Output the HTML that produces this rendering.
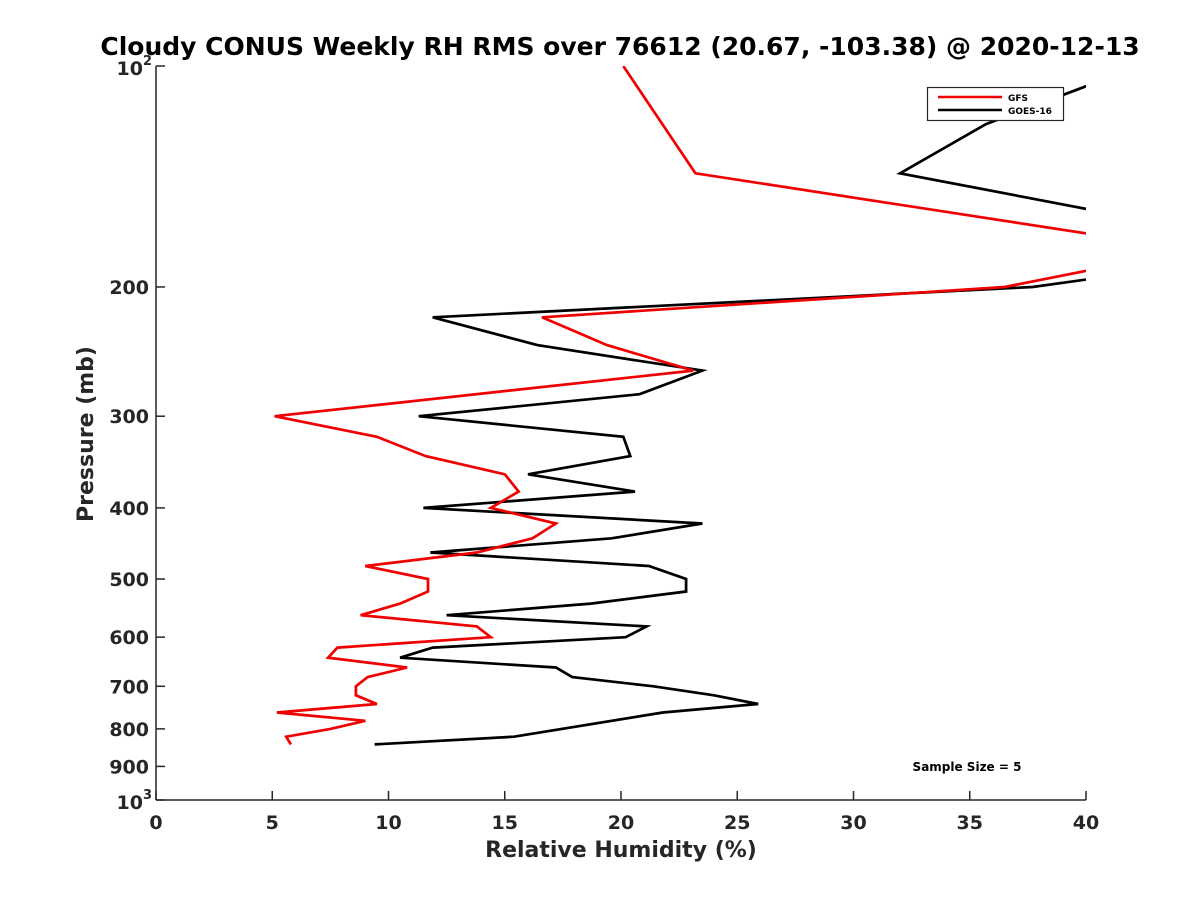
<!DOCTYPE html>
<html><head><meta charset="utf-8"><style>
body{margin:0;background:#fff;}
svg{display:block;font-family:"DejaVu Sans","Liberation Sans",sans-serif;}
</style></head><body>
<svg id="chart" width="1200" height="900" viewBox="0 0 1200 900">
<defs><clipPath id="clip"><rect x="156" y="66" width="930" height="734"/></clipPath></defs>
<text x="620" y="55" text-anchor="middle" font-size="25" font-weight="bold">Cloudy CONUS Weekly RH RMS over 76612 (20.67, -103.38) @ 2020-12-13</text>
<g id="axes"></g>
<g id="series" clip-path="url(#clip)"></g>
<text x="621" y="857" text-anchor="middle" font-size="22" font-weight="bold" fill="#262626">Relative Humidity (%)</text>
<text transform="translate(93,434) rotate(-90)" text-anchor="middle" font-size="22" font-weight="bold" fill="#262626">Pressure (mb)</text>
<g>
<rect x="927.5" y="87.5" width="136" height="33" fill="#fff" stroke="#262626" stroke-width="1.2"/>
<line x1="938" y1="97" x2="1002" y2="97" stroke="#f00000" stroke-width="2.5"/>
<text x="1008" y="101" font-size="9" font-weight="bold">GFS</text>
<line x1="938" y1="110" x2="1002" y2="110" stroke="#000" stroke-width="2.5"/>
<text x="1008" y="114" font-size="9" font-weight="bold">GOES-16</text>
</g>
<text x="967" y="771" text-anchor="middle" font-size="12" font-weight="bold">Sample Size = 5</text>
</svg>
<script>
const xTicks = [0,5,10,15,20,25,30,35,40];
const yTicks = [100,200,300,400,500,600,700,800,900,1000];
const yTickLabels = ["","200","300","400","500","600","700","800","900",""];
const gfsP = [100,140,178,200,220,240,260,300,320,340,360,380,400,420,440,460,480,500,520,540,560,580,600,620,640,660,680,700,720,740,760,780,800,820,840];
const gfsRH = [20.1,23.2,44.6,36.5,16.6,19.4,23.1,5.1,9.5,11.6,15.0,15.6,14.4,17.2,16.2,13.8,9.0,11.7,11.7,10.5,8.8,13.8,14.4,7.8,7.4,10.8,9.1,8.6,8.6,9.5,5.2,9.0,7.5,5.6,5.8];
const goesP = [100,120,140,178,200,220,240,260,280,300,320,340,360,380,400,420,440,460,480,500,520,540,560,580,600,620,640,660,680,700,720,740,760,820,840];
const goesRH = [42.3,35.7,32.0,49.2,37.7,11.9,16.4,23.5,20.8,11.3,20.1,20.4,16.0,20.6,11.5,23.5,19.6,11.8,21.2,22.8,22.8,18.7,12.5,21.1,20.2,11.9,10.5,17.2,17.9,21.4,24.0,25.9,21.8,15.4,9.4];

const X0=156,X1=1086,Y0=66,Y1=800;
const xs=v=>X0+(v-0)/(40-0)*(X1-X0);
const ys=p=>Y0+(Math.log10(p)-2)*(Y1-Y0);
const NS='http://www.w3.org/2000/svg';
function mk(tag,attrs,parent){const e=document.createElementNS(NS,tag);for(const k in attrs)e.setAttribute(k,attrs[k]);parent.appendChild(e);return e;}
const axes=document.getElementById('axes');
const xa=mk('line',{x1:X0,y1:Y1,x2:X1,y2:Y1,stroke:'#262626','stroke-width':1.5},axes);


const ya=mk('line',{x1:X0,y1:Y0,x2:X0,y2:Y1,stroke:'#262626','stroke-width':1.5},axes);


xTicks.forEach(v=>{
  const x=xs(v);
  const t=mk('line',{x1:x,y1:Y1,x2:x,y2:Y1-9,stroke:'#262626','stroke-width':1.5},axes);
  
  
  const l=mk('text',{x:x,y:Y1+29,'text-anchor':'middle','font-size':19,'font-weight':'bold',fill:'#262626'},axes);
  
  
  l.textContent=v;
});
yTicks.forEach((p,i)=>{
  const y=ys(p);
  const t=mk('line',{x1:X0,y1:y,x2:X0+9,y2:y,stroke:'#262626','stroke-width':1.5},axes);
  
  
  if(yTickLabels[i]){
    const l=mk('text',{x:X0-7,y:y+7,'text-anchor':'end','font-size':19,'font-weight':'bold',fill:'#262626'},axes);
    
    
    l.textContent=yTickLabels[i];
  }
});
[[100,'2'],[1000,'3']].forEach(([p,e])=>{
  const y=ys(p);
  const l=mk('text',{x:X0-13,y:y+9,'text-anchor':'end','font-size':19,'font-weight':'bold',fill:'#262626'},axes);
  
  
  l.textContent='10';
  const s=mk('text',{x:X0-13,y:y-1,'font-size':13,'font-weight':'bold',fill:'#262626'},axes);
  
  
  s.textContent=e;
});
const series=document.getElementById('series');
function line(P,V,color,name){
  const pts=P.map((p,i)=>xs(V[i]).toFixed(1)+','+ys(p).toFixed(1)).join(' ');
  const pl=mk('polyline',{points:pts,fill:'none',stroke:color,'stroke-width':2.7,'stroke-linejoin':'miter'},series);
  
  
}
line(goesP,goesRH,'#000','goes16-line');
line(gfsP,gfsRH,'#f00000','gfs-line');
</script>
</body></html>
